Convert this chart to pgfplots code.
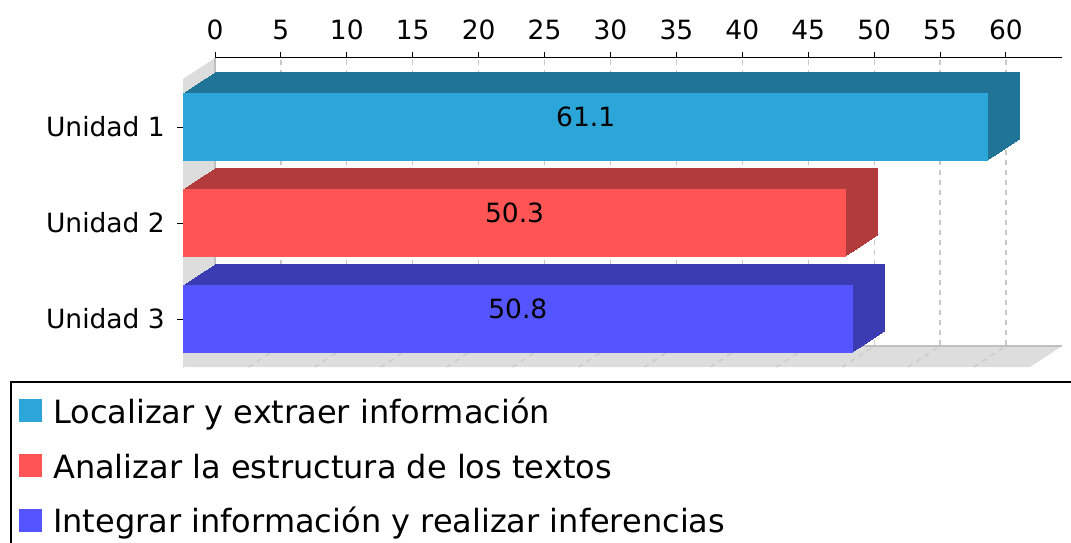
\documentclass[border=0pt]{standalone}
\usepackage{pgfplots}
\usepackage{pgfplotstable}
\pgfplotsset{compat=1.18}
\usepackage{fontspec}
\setmainfont{DejaVu Sans}
\definecolor{cA}{RGB}{44,165,216}
\definecolor{dA}{RGB}{31,116,151}
\definecolor{cB}{RGB}{255,85,85}
\definecolor{dB}{RGB}{178,59,59}
\definecolor{cC}{RGB}{85,85,255}
\definecolor{dC}{RGB}{59,59,178}
\definecolor{wallgray}{RGB}{221,221,221}
\definecolor{edgegray}{RGB}{192,192,192}
\definecolor{gridgray}{RGB}{200,200,200}
\pgfplotstableread{
v cat
61.1 1
}\tA
\pgfplotstableread{
v cat
50.3 2
}\tB
\pgfplotstableread{
v cat
50.8 3
}\tC
\pgfplotsset{/pgf/number format/assume math mode=true}
\newcommand{\tickfont}{\fontsize{26.5}{30}\selectfont}
\begin{document}
\begin{tikzpicture}
\path[use as bounding box] (0pt,0pt) rectangle (1071pt,-542pt);
\clip (0pt,0pt) rectangle (1071pt,-542pt);
% back plane: top value axis and grid
\begin{axis}[at={(215pt,-345pt)}, anchor=south west, scale only axis,
  width=847pt, height=288pt, xmin=0, xmax=64.25, ymin=0, ymax=1,
  axis x line*=top, axis y line=none,
  axis line style={-, line width=1pt, black},
  xtick={0,5,...,60}, tick align=outside, major tick length=5pt,
  x tick style={line width=1pt, black},
  xmajorgrids, major grid style={gridgray, line width=1.2pt, dash pattern=on 5pt off 5pt},
  xticklabel style={font=\tickfont, inner sep=0pt, yshift=12pt}]
\addplot[draw=none] coordinates {(0,0)};
\end{axis}
% front plane: bars
\begin{axis}[at={(183pt,-367pt)}, anchor=south west, scale only axis,
  width=847pt, height=288pt, xmin=0, xmax=64.25, ymin=0.5, ymax=3.5,
  y dir=reverse, axis x line=none, axis y line*=left,
  axis line style={-, line width=1pt, black},
  ytick={1,2,3}, yticklabels={Unidad 1,Unidad 2,Unidad 3},
  tick align=outside, major tick length=6pt,
  y tick style={line width=1pt, black},
  yticklabel style={font=\tickfont, inner sep=0pt, xshift=-12pt},
  clip=false, bar width=67.5pt,
  legend image code/.code={\fill[#1] (0pt,-10pt) rectangle (23pt,13pt);},
  legend style={at={(axis description cs:0,0)}, anchor=north west,
    xshift=-164pt, yshift=-32pt, draw=none, fill=none, inner sep=0pt,
    font=\fontsize{32}{38}\selectfont, row sep=29pt,
    nodes={inner sep=0pt},
    /tikz/every odd column/.append style={column sep=11pt},
    /tikz/every even column/.append style={text height=24pt, text depth=8pt}},
  legend cell align=left]
% wall and floor
\fill[wallgray] (axis description cs:0,0) -- (axis description cs:1,0) -- ++(32pt,21pt) -- ([shift={(32pt,21pt)}]axis description cs:0,0) -- cycle;
\fill[wallgray] (axis description cs:0,0) -- (axis description cs:0,1) -- ++(32pt,21pt) -- ([shift={(32pt,21pt)}]axis description cs:0,0) -- cycle;
\draw[edgegray, line width=2pt] ([shift={(32pt,21pt)}]axis description cs:0,0) -- ([shift={(32pt,21pt)}]axis description cs:1,0);
\draw[edgegray, line width=1.5pt] ([shift={(32pt,21pt)}]axis description cs:0,0) -- ([shift={(32pt,21pt)}]axis description cs:0,1);
\pgfplotsinvokeforeach{5,10,...,60}{\draw[gridgray, line width=1.2pt, dash pattern=on 5pt off 5pt] (axis cs:#1,3.5) -- ++(32pt,21pt);}
% extruded depth of each bar
\pgfplotsinvokeforeach{1,...,32}{\addplot[xbar, bar shift=0pt, fill=dA, draw=none, forget plot, xshift=#1pt, yshift=#1*0.65625pt] table[x=v,y=cat]{\tA};}
\pgfplotsinvokeforeach{1,...,32}{\addplot[xbar, bar shift=0pt, fill=dB, draw=none, forget plot, xshift=#1pt, yshift=#1*0.65625pt] table[x=v,y=cat]{\tB};}
\pgfplotsinvokeforeach{1,...,32}{\addplot[xbar, bar shift=0pt, fill=dC, draw=none, forget plot, xshift=#1pt, yshift=#1*0.65625pt] table[x=v,y=cat]{\tC};}
% front faces
\pgfplotsset{frontbar/.style={xbar, bar shift=0pt, draw=none, forget plot,
  nodes near coords, point meta=x,
  visualization depends on={rawx \as \rawx},
  nodes near coords style={anchor=center, xshift={-\rawx*6.5914pt}, yshift=10.5pt, font=\tickfont, text=black, inner sep=0pt}}}
\addplot[frontbar, fill=cA] table[x=v,y=cat]{\tA};
\addplot[frontbar, fill=cB] table[x=v,y=cat]{\tB};
\addplot[frontbar, fill=cC] table[x=v,y=cat]{\tC};
\addlegendimage{fill=cA, draw=none}
\addlegendentry{Localizar y extraer información}
\addlegendimage{fill=cB, draw=none}
\addlegendentry{Analizar la estructura de los textos}
\addlegendimage{fill=cC, draw=none}
\addlegendentry{Integrar información y realizar inferencias}
\end{axis}
% legend frame
\draw[line width=2pt] (11pt,-600pt) -- (11pt,-381.7pt) -- (1100pt,-381.7pt);
\end{tikzpicture}
\end{document}
